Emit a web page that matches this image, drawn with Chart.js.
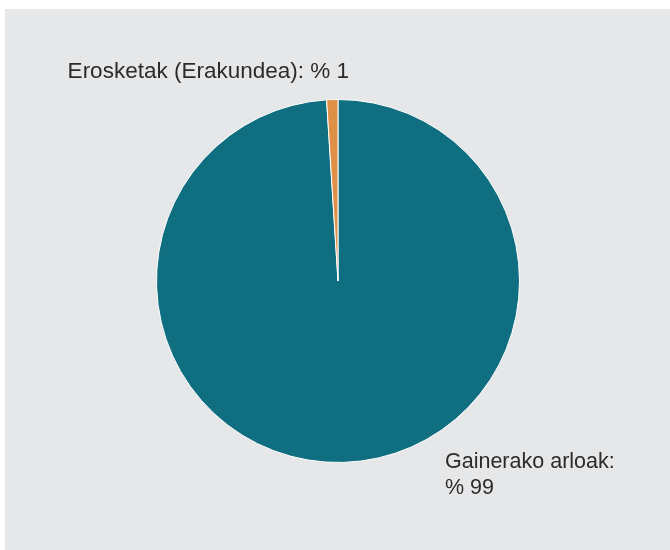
<!DOCTYPE html>
<html>
<head>
<meta charset="utf-8">
<script src="https://cdn.jsdelivr.net/npm/chart.js@4"></script>
<style>
  html, body { margin: 0; padding: 0; background: #fff; }
  #wrap { position: relative; width: 670px; height: 550px; }
  #panel { position: absolute; left: 5px; top: 9px; right: 0; bottom: 0; background: #e6e7e9; }
  canvas { position: absolute; left: 0; top: 0; }
</style>
</head>
<body>
<div id="wrap">
  <div id="panel"></div>
  <canvas id="pie" width="670" height="550"></canvas>
</div>
<script>
const categories = ['Gainerako arloak', 'Erosketak (Erakundea)'];
const shares = [99, 1];
const sliceColors = ['#0f6e80', '#de9047'];
const labelLines = [
  ['Gainerako arloak:', '% 99'],
  ['Erosketak (Erakundea): % 1']
];

// text labels, placed beside the slices like in the printed report
const labelPlugin = {
  id: 'sliceLabels',
  afterDraw(chart) {
    const ctx = chart.ctx;
    const arc = chart.getDatasetMeta(0).data[0];
    const cx = arc.x, cy = arc.y, r = arc.outerRadius;
    ctx.save();
    ctx.fillStyle = '#2b2b2b';
    ctx.textBaseline = 'alphabetic';
    // big slice: below right
    ctx.font = '21.5px "Liberation Sans", Arial, sans-serif';
    ctx.textAlign = 'left';
    labelLines[0].forEach((t, i) => {
      ctx.fillText(t, cx + 107, cy + r + 5 + i * 26);
    });
    // small slice: above left
    ctx.font = '22.5px "Liberation Sans", Arial, sans-serif';
    ctx.textAlign = 'right';
    ctx.fillText(labelLines[1][0], cx + 11, cy - r - 22);
    ctx.restore();
  }
};

new Chart(document.getElementById('pie'), {
  type: 'pie',
  data: {
    labels: categories,
    datasets: [{
      data: shares,
      backgroundColor: sliceColors,
      borderColor: '#ffffff',
      borderWidth: 1,
    }],
  },
  options: {
    responsive: false,
    animation: false,
    layout: { padding: { left: 6, right: 0, top: 99, bottom: 87 } },
    plugins: { legend: { display: false }, tooltip: { enabled: false } },
  },
  plugins: [labelPlugin],
});
</script>
</body>
</html>
